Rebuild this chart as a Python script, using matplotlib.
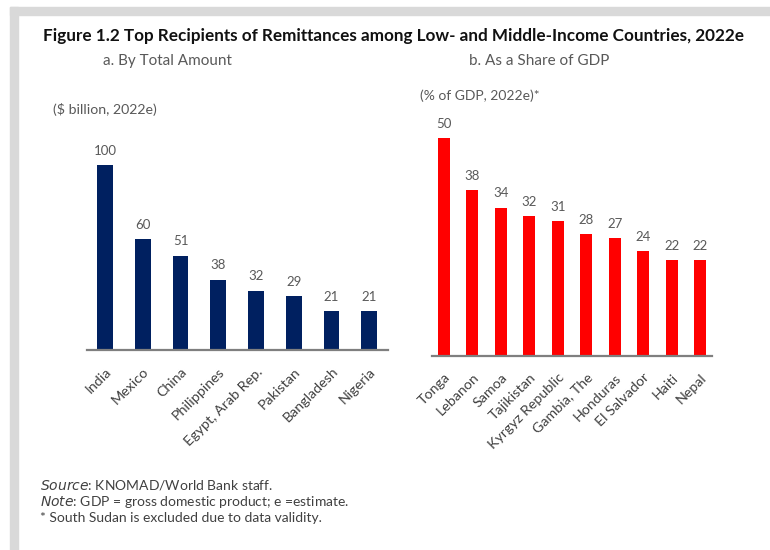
import numpy as np
import matplotlib.pyplot as plt
from matplotlib.patches import Rectangle

plt.rcParams['font.family'] = ['Lato', 'DejaVu Sans']

amount_countries = ['India', 'Mexico', 'China', 'Philippines', 'Egypt, Arab Rep.',
                    'Pakistan', 'Bangladesh', 'Nigeria']
amount_values = [100, 60, 51, 38, 32, 29, 21, 21]

gdp_countries = ['Tonga', 'Lebanon', 'Samoa', 'Tajikistan', 'Kyrgyz Republic',
                 'Gambia, The', 'Honduras', 'El Salvador', 'Haiti', 'Nepal']
gdp_values = [50, 38, 34, 32, 31, 28, 27, 24, 22, 22]

W, H = 770, 550
NAVY = '#002060'
RED = '#ff0000'
GREY_TXT = '#595959'
TICK_TXT = '#404040'


def fx(x):
    return x / W


def fy(y):
    return 1 - y / H


def panel(ax, names, values, color, xlim, ylim):
    x = np.arange(len(values))
    ax.bar(x, values, width=0.42, color=color, zorder=2)
    for xi, v in zip(x, values):
        ax.annotate(str(v), (xi, v), xytext=(0, 6), textcoords='offset points',
                    ha='center', va='bottom', fontsize=9.5, color=GREY_TXT)
    ax.set_xlim(*xlim)
    ax.set_ylim(*ylim)
    ax.set_yticks([])
    ax.set_xticks(x)
    ax.set_xticklabels(names, rotation=45, ha='right', rotation_mode='anchor',
                       fontsize=10.3, color=TICK_TXT)
    ax.tick_params(axis='x', length=0, pad=11)
    for s in ['top', 'right', 'left']:
        ax.spines[s].set_visible(False)
    ax.spines['bottom'].set_color('#7f7f7f')
    ax.spines['bottom'].set_linewidth(1.6)
    ax.patch.set_alpha(0)


fig = plt.figure(figsize=(7.7, 5.5), dpi=100)

# grey frame along the top and left edges
fig.patches.append(Rectangle((fx(10), fy(15)), fx(760), 8 / H, transform=fig.transFigure,
                             color='#d9d9d9', zorder=0))
fig.patches.append(Rectangle((fx(10), 0), 8 / W, fy(7), transform=fig.transFigure,
                             color='#d9d9d9', zorder=0))

ax1 = fig.add_axes([fx(87), fy(350), 301 / W, 220 / H])
panel(ax1, amount_countries, amount_values, NAVY, (-0.48, 7.5), (0, 220 / 1.85))

ax2 = fig.add_axes([fx(432), fy(356), 280 / W, 230 / H])
panel(ax2, gdp_countries, gdp_values, RED, (-0.42, 9.42), (0, 230 / 4.36))

fig.text(fx(43), fy(36), 'Figure 1.2 Top Recipients of Remittances among Low- and Middle-Income Countries, 2022e',
         fontsize=12.3, fontweight='bold', color='#111111', va='center')
fig.text(fx(103), fy(61), 'a. By Total Amount', fontsize=11, color=GREY_TXT, va='center')
fig.text(fx(469), fy(61), 'b. As a Share of GDP', fontsize=11, color=GREY_TXT, va='center')
fig.text(fx(53), fy(110), '($ billion, 2022e)', fontsize=10.2, color=GREY_TXT, va='center')
fig.text(fx(420), fy(96), '(% of GDP, 2022e)*', fontsize=10, color=GREY_TXT, va='center')

fig.text(fx(40), fy(485), r'$\it{Source}$: KNOMAD/World Bank staff.', fontsize=10, color=TICK_TXT, va='center')
fig.text(fx(40), fy(502), r'$\it{Note}$: GDP = gross domestic product; e =estimate.', fontsize=10, color=TICK_TXT, va='center')
fig.text(fx(40), fy(518), '* South Sudan is excluded due to data validity.', fontsize=10, color=TICK_TXT, va='center')

fig.savefig('out.png', dpi=100, facecolor='white')
